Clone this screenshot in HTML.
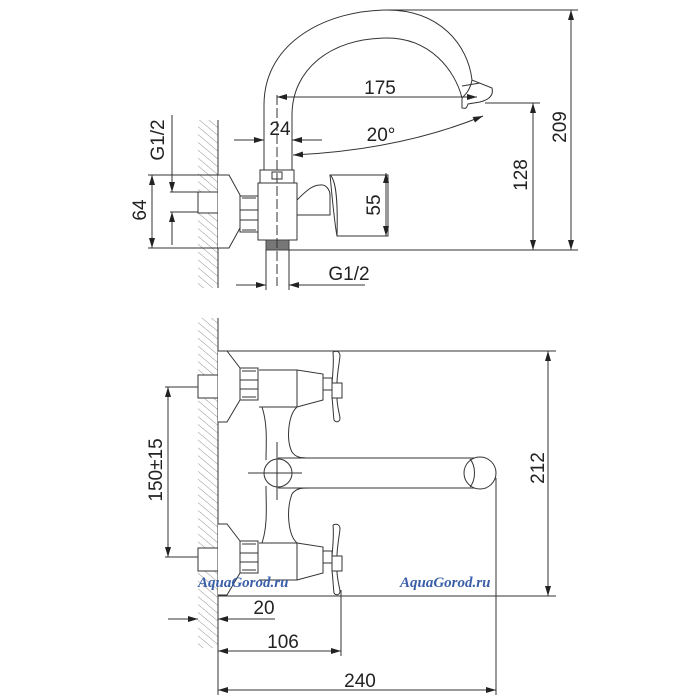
<!DOCTYPE html>
<html><head><meta charset="utf-8"><style>
html,body{margin:0;padding:0;background:#fff;}
svg{display:block}
text{font-family:"Liberation Sans",sans-serif;font-size:19px;fill:#222}
.wm{font-family:"Liberation Serif",serif;font-weight:bold;font-style:italic;font-size:15px;fill:#3a5fa8}
</style></head><body>
<svg width="700" height="700" viewBox="0 0 700 700" xmlns="http://www.w3.org/2000/svg">
<defs>
<pattern id="h" width="6" height="6" patternUnits="userSpaceOnUse" patternTransform="rotate(-50)">
<line x1="0" y1="0" x2="0" y2="6" stroke="#777" stroke-width="0.8"/>
</pattern>
<marker id="a" viewBox="0 0 10 6" refX="10" refY="3" markerWidth="10" markerHeight="6" orient="auto-start-reverse" markerUnits="userSpaceOnUse">
<path d="M0,0 L10,3 L0,6 Z" fill="#222"/>
</marker>
</defs>
<g fill="none" stroke="#333" stroke-width="1">
<!-- ===== TOP VIEW ===== -->
<rect x="198" y="120" width="20" height="168" fill="url(#h)" stroke="none"/>
<line x1="218" y1="120" x2="218" y2="288"/>
<rect x="198" y="192" width="20" height="21" fill="#fff"/>
<path d="M218,175 H229 L240,195 V228 L229,248 H218" fill="#fff"/>
<path d="M240,196 H258 V232 H240 Z M242,198 H256 M242,230 H256 M240,210 H258 M240,220 H258" />
<!-- spout -->
<path d="M264,172 V105 C264,40 330,10 387,10 C440,10 468,45 472,80"/>
<path d="M292,172 V115 C292,70 330,38 387,38 C430,38 455,70 462,98"/>
<path d="M462,98 C466,94 470,90 472,80 L492,88 C494,96 488,100 480,102 L468,104 C466,110 465,108 462,108 Z"/>
<line x1="462" y1="86" x2="480" y2="83"/>
<!-- body -->
<path d="M260,170 H294 V183 H260 Z" fill="#fff"/>
<path d="M258,183 H297 V240 H258 Z" fill="#fff"/>
<rect x="272" y="172" width="10" height="7"/>
<path d="M297,200 C305,192 312,185 320,185 C326,184 330,190 330,195 L330,215 H297"/>
<path d="M330,175 H388 V236 H337 C334,220 332,195 330,175 Z" fill="#fff"/>
<path d="M330,175 C336,180 338,200 337,236"/>
<rect x="266" y="240" width="23" height="10" fill="#777" stroke="#444"/>
<!-- dims top -->
<line x1="277" y1="95" x2="277" y2="286" stroke-dasharray="10,3"/>
<line x1="387" y1="10" x2="578" y2="10"/>
<line x1="485" y1="103" x2="540" y2="103"/>
<line x1="289" y1="250" x2="578" y2="250"/>
<line x1="571" y1="10" x2="571" y2="250" marker-start="url(#a)" marker-end="url(#a)"/>
<line x1="533" y1="103" x2="533" y2="250" marker-start="url(#a)" marker-end="url(#a)"/>
<line x1="277" y1="97" x2="477" y2="97" marker-start="url(#a)" marker-end="url(#a)"/>
<line x1="234" y1="140" x2="264" y2="140" marker-end="url(#a)"/>
<line x1="322" y1="140" x2="292" y2="140" marker-end="url(#a)"/>
<path d="M293,155 Q400,150 483,116" marker-start="url(#a)" marker-end="url(#a)"/>
<line x1="386" y1="173" x2="386" y2="236" marker-start="url(#a)" marker-end="url(#a)"/>
<line x1="148" y1="175" x2="218" y2="175"/>
<line x1="148" y1="248" x2="218" y2="248"/>
<line x1="170" y1="192" x2="198" y2="192"/>
<line x1="170" y1="212" x2="198" y2="212"/>
<line x1="152" y1="175" x2="152" y2="248" marker-start="url(#a)" marker-end="url(#a)"/>
<line x1="172" y1="115" x2="172" y2="192" marker-end="url(#a)"/>
<line x1="172" y1="245" x2="172" y2="212" marker-end="url(#a)"/>
<line x1="266" y1="250" x2="266" y2="290"/>
<line x1="289" y1="250" x2="289" y2="290"/>
<line x1="236" y1="285" x2="266" y2="285" marker-end="url(#a)"/>
<line x1="365" y1="285" x2="289" y2="285" marker-end="url(#a)"/>

<!-- ===== BOTTOM VIEW ===== -->
<rect x="198" y="318" width="20" height="330" fill="url(#h)" stroke="none"/>
<line x1="218" y1="318" x2="218" y2="695"/>
<g id="valve">
<rect x="198" y="375" width="20" height="23" fill="#fff"/>
<path d="M218,351 H227 L240,368 V400 L227,422 H218" fill="#fff"/>
<path d="M240,368 H258 V400 H240 Z M242,371 H256 M242,397 H256 M240,380 H258 M240,389 H258"/>
<path d="M259,370 H297 L323,374 V400 L297,407 H259" fill="#fff"/>
<line x1="297" y1="370" x2="297" y2="407"/>
<rect x="323" y="378" width="9" height="12"/>
<rect x="332" y="383" width="10" height="15"/>
<path d="M333,352 C337,350 340,352 340,356 C339,365 337,375 337,383 M333,352 C334,362 333,372 332,383"/>
<path d="M337,398 C337,405 339,412 340,418 C340,422 336,423 334,420 C333,412 333,405 332,398"/>
</g>
<use href="#valve" transform="translate(0,173)"/>
<!-- central body -->
<path d="M262,407 C268,425 266,445 266,460"/>
<path d="M266,486 C266,505 268,525 262,543"/>
<path d="M297,407 C288,415 286,440 292,452 C296,458 302,458 310,458"/>
<path d="M297,543 C288,535 286,510 292,494 C296,488 302,488 310,488"/>
<path d="M278,458 H478 A15,15 0 0 1 478,488 H278" fill="#fff"/>
<circle cx="480" cy="473" r="16" fill="#fff"/>
<path d="M470,459 C476,466 476,480 470,487"/>
<circle cx="278" cy="473" r="14" fill="#fff"/>
<line x1="248" y1="473" x2="302" y2="473"/>
<line x1="277" y1="442" x2="277" y2="500"/>
<!-- dims bottom -->
<line x1="218" y1="351" x2="556" y2="351"/>
<line x1="218" y1="596" x2="556" y2="596"/>
<line x1="548" y1="351" x2="548" y2="596" marker-start="url(#a)" marker-end="url(#a)"/>
<line x1="165" y1="387" x2="198" y2="387"/>
<line x1="165" y1="557" x2="198" y2="557"/>
<line x1="168" y1="387" x2="168" y2="557" marker-start="url(#a)" marker-end="url(#a)"/>
<line x1="168" y1="619" x2="198" y2="619" marker-end="url(#a)"/>
<line x1="275" y1="619" x2="218" y2="619" marker-end="url(#a)"/>
<line x1="341" y1="590" x2="341" y2="656"/>
<line x1="496" y1="478" x2="496" y2="695"/>
<line x1="218" y1="651" x2="341" y2="651" marker-start="url(#a)" marker-end="url(#a)"/>
<line x1="218" y1="690" x2="496" y2="690" marker-start="url(#a)" marker-end="url(#a)"/>
</g>
<!-- text -->
<text x="380" y="94" text-anchor="middle">175</text>
<text x="280" y="135" text-anchor="middle">24</text>
<text x="381" y="141" text-anchor="middle">20°</text>
<text x="349" y="280" text-anchor="middle">G1/2</text>
<text transform="translate(566,127) rotate(-90)" text-anchor="middle">209</text>
<text transform="translate(527,175) rotate(-90)" text-anchor="middle">128</text>
<text transform="translate(380,205) rotate(-90)" text-anchor="middle">55</text>
<text transform="translate(164,140) rotate(-90)" text-anchor="middle">G1/2</text>
<text transform="translate(146,210) rotate(-90)" text-anchor="middle">64</text>
<text transform="translate(162,470) rotate(-90)" text-anchor="middle">150±15</text>
<text transform="translate(544,468) rotate(-90)" text-anchor="middle">212</text>
<text x="264" y="614" text-anchor="middle">20</text>
<text x="283" y="648" text-anchor="middle">106</text>
<text x="360" y="687" text-anchor="middle">240</text>
<text class="wm" x="198" y="587">AquaGorod.ru</text>
<text class="wm" x="400" y="587">AquaGorod.ru</text>
</svg>
</body></html>
